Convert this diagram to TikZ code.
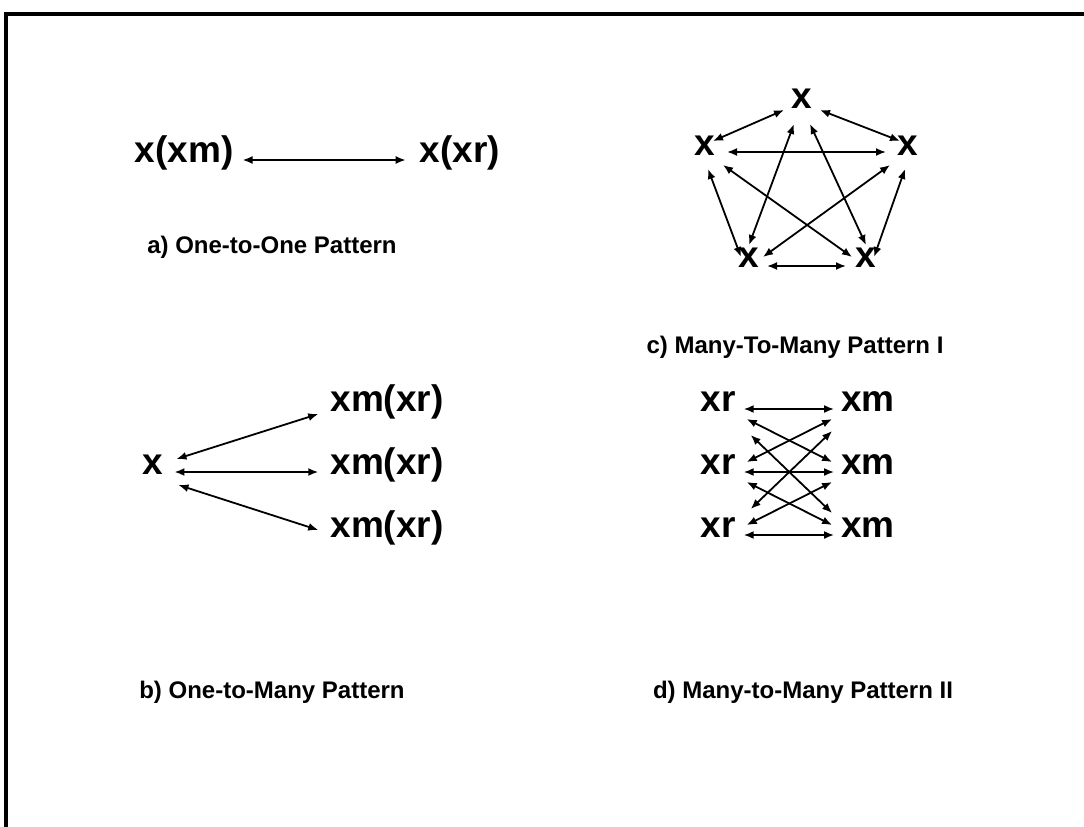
\documentclass[tikz,border=0pt]{standalone}
\usepackage{fontspec}
\setmainfont{Liberation Sans}
\usetikzlibrary{arrows.meta}
\tikzset{>={Latex[length=10pt,width=8pt]}}
\tikzstyle{pnode}=[inner sep=0pt,font=\fontsize{37}{44}\selectfont\bfseries,text height=0.75em,text depth=0.25em]
\tikzstyle{plabel}=[inner sep=0pt,font=\fontsize{24}{29}\selectfont\bfseries]
\tikzstyle{link}=[<->,line width=1.8pt]
\tikzstyle{boxline}=[line width=3.5pt]

\begin{document}
\begin{tikzpicture}[x=1pt,y=-1pt]
  \useasboundingbox (0,0) rectangle (1084,827);
  \def\rA{409} % first row
  \def\rB{472} % second row
  \def\rC{535} % third row

  % FRAME
  \draw[boxline] (6,827) -- (6,14) -- (1084,14);

  % a) ONE-TO-ONE
  \node[pnode] (xxm) at (184,160) {x(xm)};
  \node[pnode] (xxr) at (460,160) {x(xr)};
  \draw[link] ([xshift=9pt]xxm.east) -- ([xshift=-14pt]xxr.west);
  \node[plabel] (la) at (272,247) {a) One-to-One Pattern};

  % b) ONE-TO-MANY
  \node[pnode] (xo) at (153,\rB) {x};
  \node[pnode] (xmr1) at (387,\rA) {xm(xr)};
  \node[pnode] (xmr2) at (387,\rB) {xm(xr)};
  \node[pnode] (xmr3) at (387,\rC) {xm(xr)};
  \draw[link] ([shift={(13,-13)}]xo.east) -- ([shift={(-12,5)}]xmr1.west);
  \draw[link] ([shift={(11,0)}]xo.east) -- ([shift={(-12,0)}]xmr2.west);
  \draw[link] ([shift={(15,13)}]xo.east) -- ([shift={(-12,-5)}]xmr3.west);
  \node[plabel] (lb) at (272,692) {b) One-to-Many Pattern};

  % c) MANY-TO-MANY I
  \node[pnode] (p1) at (802,106) {x};
  \node[pnode] (p2) at (908,153) {x};
  \node[pnode] (p3) at (866,265) {x};
  \node[pnode] (p4) at (749,265) {x};
  \node[pnode] (p5) at (705,153) {x};
  \draw[link] ([shift={(-18,4)}]p1.center) -- ([shift={(8,-12)}]p5.center);
  \draw[link] ([shift={(18,4)}]p1.center) -- ([shift={(-8,-12)}]p2.center);
  \draw[link] ([shift={(-8,18)}]p1.center) -- ([shift={(0,-20)}]p4.center);
  \draw[link] ([shift={(8,18)}]p1.center) -- ([shift={(0,-20)}]p3.center);
  \draw[link] ([shift={(22,-1)}]p5.center) -- ([shift={(-22,-1)}]p2.center);
  \draw[link] ([shift={(18,12)}]p5.center) -- ([shift={(-14,-8)}]p3.center);
  \draw[link] ([shift={(-18,12)}]p2.center) -- ([shift={(14,-8)}]p4.center);
  \draw[link] ([shift={(3,16)}]p5.center) -- ([shift={(-8,-8)}]p4.center);
  \draw[link] ([shift={(-3,16)}]p2.center) -- ([shift={(8,-8)}]p3.center);
  \draw[link] ([shift={(18,1)}]p4.center) -- ([shift={(-20,1)}]p3.center);
  \node[plabel] (lc) at (795,347) {c) Many-To-Many Pattern I};

  % d) MANY-TO-MANY II
  \node[pnode] (xr1) at (718,\rA) {xr};
  \node[pnode] (xr2) at (718,\rB) {xr};
  \node[pnode] (xr3) at (718,\rC) {xr};
  \node[pnode] (xm1) at (868,\rA) {xm};
  \node[pnode] (xm2) at (868,\rB) {xm};
  \node[pnode] (xm3) at (868,\rC) {xm};
  \draw[link] ([xshift=8pt]xr1.east) -- ([xshift=-7pt]xm1.west);
  \draw[link] ([xshift=8pt]xr2.east) -- ([xshift=-7pt]xm2.west);
  \draw[link] ([xshift=8pt]xr3.east) -- ([xshift=-7pt]xm3.west);
  \draw[link] ([shift={(11,10)}]xr1.east) -- ([shift={(-9,-10)}]xm2.west);
  \draw[link] ([shift={(15,26)}]xr1.east) -- ([shift={(-9,-22)}]xm3.west);
  \draw[link] ([shift={(11,-10)}]xr2.east) -- ([shift={(-9,10)}]xm1.west);
  \draw[link] ([shift={(11,10)}]xr2.east) -- ([shift={(-9,-10)}]xm3.west);
  \draw[link] ([shift={(15,-26)}]xr3.east) -- ([shift={(-9,22)}]xm1.west);
  \draw[link] ([shift={(11,-10)}]xr3.east) -- ([shift={(-9,10)}]xm2.west);
  \node[plabel] (ld) at (803,692) {d) Many-to-Many Pattern II};
\end{tikzpicture}
\end{document}
